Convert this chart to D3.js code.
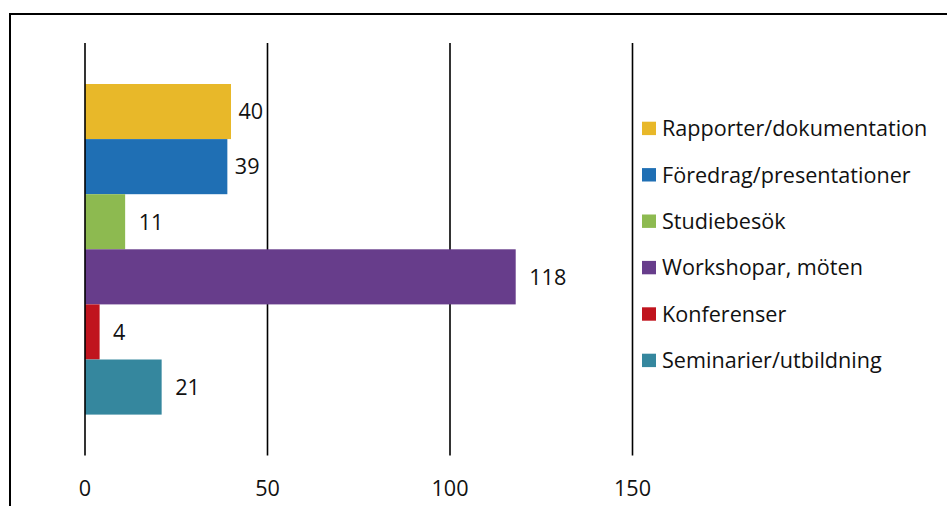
<!DOCTYPE html>
<html>
<head>
<meta charset="utf-8">
<script src="https://cdn.jsdelivr.net/npm/d3@7"></script>
<style>
  html, body { margin: 0; padding: 0; background: #fff; }
  svg { display: block; }
  text { font-family: "Open Sans", Lato, sans-serif; fill: #111; }
</style>
</head>
<body>
<svg id="chart" width="947" height="506"></svg>
<script>
// ---- data ----
const categories = ["Rapporter/dokumentation", "Föredrag/presentationer", "Studiebesök", "Workshopar, möten", "Konferenser", "Seminarier/utbildning"];
const values = [40, 39, 11, 118, 4, 21];
const colors = ["#E8B829", "#1F6FB4", "#8DBA50", "#673D8B", "#C0141E", "#35879E"];
const tickValues = [0, 50, 100, 150];

// ---- layout ----
const W = 947, H = 506;
const svg = d3.select("#chart");
const fontSize = 21.6;

// outer frame (top and left edges visible)
svg.append("path")
  .attr("d", `M10,${H + 5} L10,14 L${W + 5},14`)
  .attr("fill", "none").attr("stroke", "#000").attr("stroke-width", 2);

const x = d3.scaleLinear().domain([0, 150]).range([85, 632.5]);
const plotTop = 43, plotBottom = 455.5;
const y = d3.scaleBand().domain(categories).range([84, 414.6]).padding(0);

// gridlines (except zero line, drawn on top later)
svg.append("g").selectAll("line")
  .data(tickValues.filter(d => d !== 0))
  .join("line")
  .attr("x1", d => x(d)).attr("x2", d => x(d))
  .attr("y1", plotTop).attr("y2", plotBottom)
  .attr("stroke", "#000").attr("stroke-width", 1.6);

// bars
svg.append("g").selectAll("rect")
  .data(categories)
  .join("rect")
  .attr("x", x(0))
  .attr("y", d => y(d))
  .attr("width", (d, i) => x(values[i]) - x(0))
  .attr("height", y.bandwidth())
  .attr("fill", (d, i) => colors[i]);

// zero line on top
svg.append("line")
  .attr("x1", x(0)).attr("x2", x(0))
  .attr("y1", plotTop).attr("y2", plotBottom)
  .attr("stroke", "#000").attr("stroke-width", 1.6);

// value labels
const lbl = svg.append("g").selectAll("text")
  .data(categories)
  .join("text")
  .attr("y", d => y(d) + y.bandwidth() / 2)
  .attr("dy", "0.36em")
  .attr("font-size", fontSize)
  .text((d, i) => values[i]);
lbl.each(function (d, i) {
  const end = x(values[i]);
  const w = this.getComputedTextLength();
  let off = 13.5;
  // avoid touching a gridline
  for (const t of tickValues) {
    const gx = x(t);
    if (gx > end && end + off + w + 2 > gx - 1) off = 7.5;
  }
  d3.select(this).attr("x", end + off);
});

// x axis tick labels
svg.append("g").selectAll("text")
  .data(tickValues)
  .join("text")
  .attr("x", d => x(d))
  .attr("y", 488)
  .attr("dy", "0.36em")
  .attr("text-anchor", "middle")
  .attr("font-size", fontSize)
  .text(d => d);

// legend
const legY = d3.scaleBand().domain(categories).range([105.2, 383.6]);
const leg = svg.append("g").selectAll("g")
  .data(categories)
  .join("g")
  .attr("transform", d => `translate(642,${legY(d) + legY.bandwidth() / 2})`);
leg.append("rect")
  .attr("x", 0).attr("y", -6.7).attr("width", 14).attr("height", 13.4)
  .attr("fill", (d, i) => colors[i]);
leg.append("text")
  .attr("x", 20).attr("dy", "0.36em")
  .attr("font-size", fontSize)
  .text(d => d);
</script>
</body>
</html>
